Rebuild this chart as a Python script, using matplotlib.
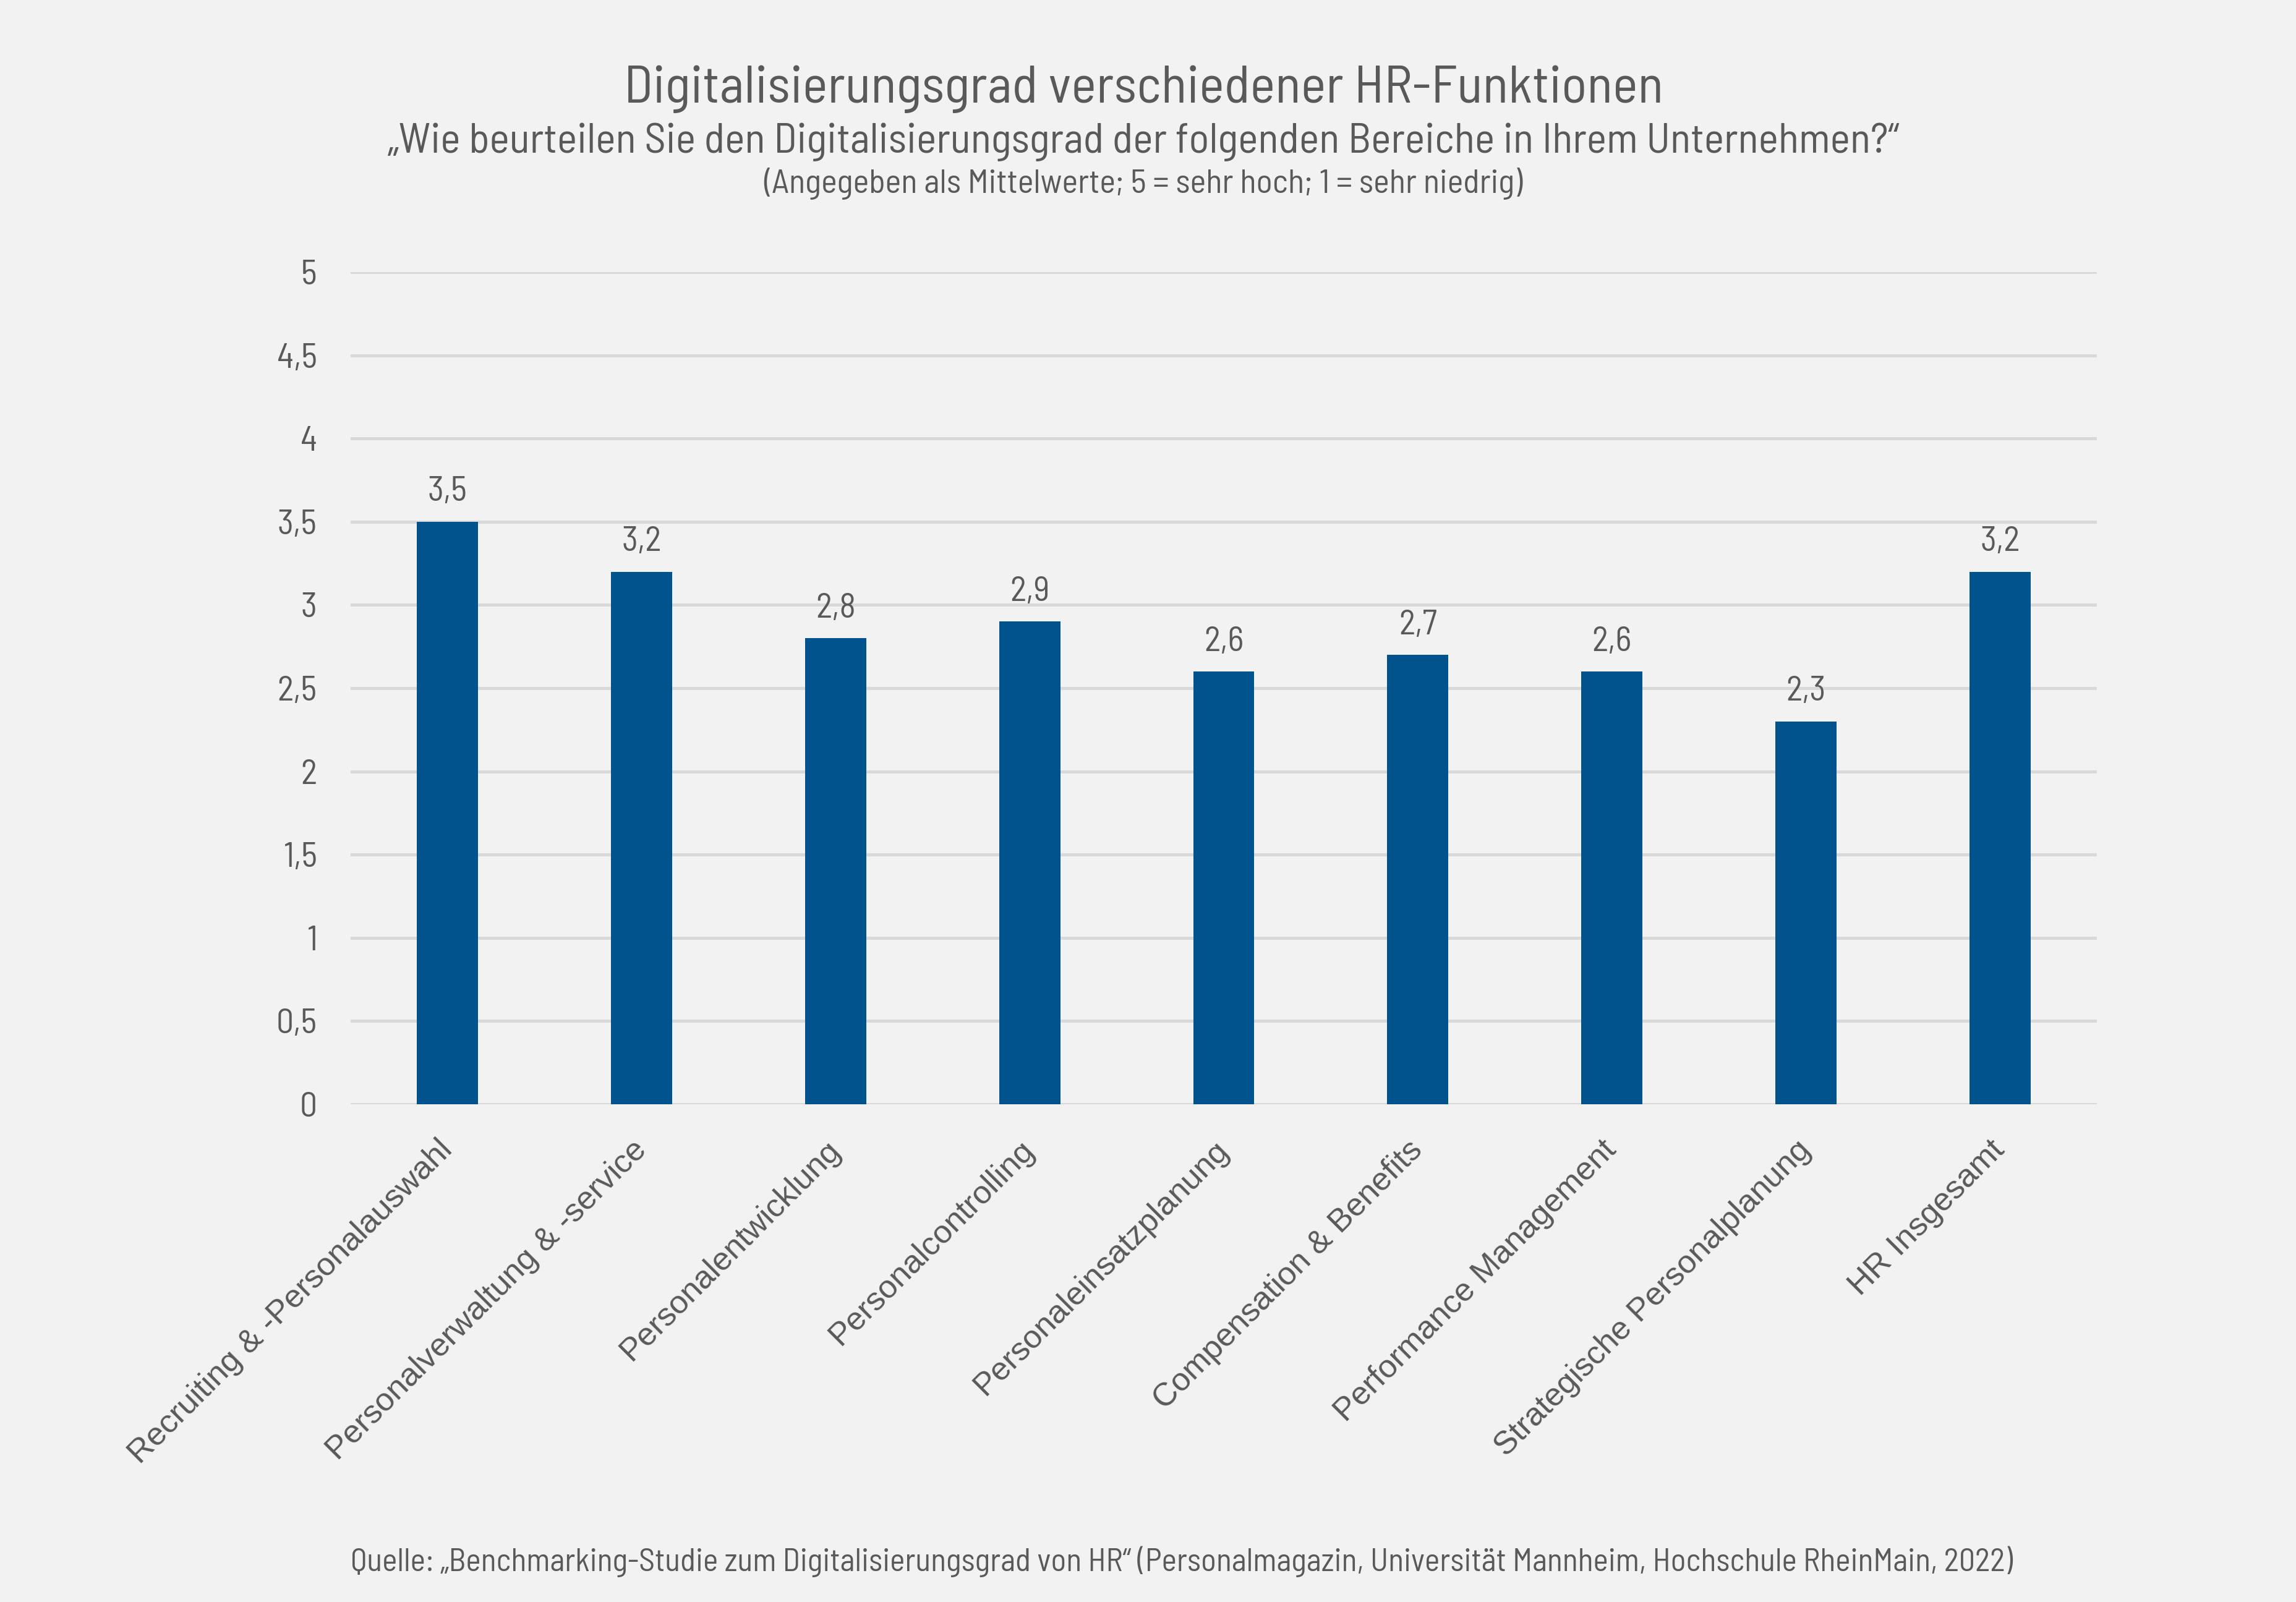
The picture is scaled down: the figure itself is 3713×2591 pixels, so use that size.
import matplotlib
matplotlib.use('Agg')
import matplotlib.pyplot as plt
from matplotlib import font_manager

# Kategorien und Mittelwerte
categories = ['Recruiting & -Personalauswahl', 'Personalverwaltung & -service',
              'Personalentwicklung', 'Personalcontrolling', 'Personaleinsatzplanung',
              'Compensation & Benefits', 'Performance Management',
              'Strategische Personalplanung', 'HR Insgesamt']
values = [3.5, 3.2, 2.8, 2.9, 2.6, 2.7, 2.6, 2.3, 3.2]
yticks = [0, 0.5, 1, 1.5, 2, 2.5, 3, 3.5, 4, 4.5, 5]
ytick_labels = ['0', '0,5', '1', '1,5', '2', '2,5', '3', '3,5', '4', '4,5', '5']

title = 'Digitalisierungsgrad verschiedener HR-Funktionen'
subtitle = '\u201eWie beurteilen Sie den Digitalisierungsgrad der folgenden Bereiche in Ihrem Unternehmen?\u201c'
note = '(Angegeben als Mittelwerte; 5 = sehr hoch; 1 = sehr niedrig)'
source = ('Quelle: \u201eBenchmarking-Studie zum Digitalisierungsgrad von HR\u201c '
          '(Personalmagazin, Universit\u00e4t Mannheim, Hochschule RheinMain, 2022)')

names = set(f.name for f in font_manager.fontManager.ttflist)
def pick(prefs):
    for p in prefs:
        if p in names:
            return [p, 'DejaVu Sans']
    return ['DejaVu Sans']

# schmale Schrift fuer Titel/Zahlen, normale fuer die Kategorien
cond = pick(['Barlow Semi Condensed', 'Barlow Condensed', 'Roboto Condensed', 'Archivo Narrow',
             'PT Sans Narrow', 'Liberation Sans Narrow'])
plain = pick(['Liberation Sans', 'Arimo', 'Roboto'])
plt.rcParams['font.family'] = cond

bg = '#F2F2F2'
txt = '#595959'
bar_col = '#00538C'

fig = plt.figure(figsize=(3713/300, 2591/300), dpi=300, facecolor=bg)
ax = fig.add_axes([0.1527, 0.3107, 0.7606, 0.5195])
ax.set_facecolor(bg)

x = range(len(categories))
bars = ax.bar(x, values, width=0.315, color=bar_col, zorder=3)
for b, v in zip(bars, values):
    ax.annotate(('%.1f' % v).replace('.', ','), (b.get_x() + b.get_width()/2, v),
                xytext=(0, 8), textcoords='offset points', ha='center', va='baseline',
                fontsize=13.4, color=txt)

ax.set_xlim(-0.5, len(categories) - 0.5)
ax.set_ylim(0, 5)
ax.set_yticks(yticks)
ax.set_yticklabels(ytick_labels)
ax.yaxis.grid(True, color='#D9D9D9', linewidth=1.2, zorder=0)
ax.set_xticks(list(x))
ax.set_xticklabels(categories, rotation=45, ha='right', va='center', rotation_mode='anchor',
                   family=plain, fontsize=12.6)
for s in ax.spines.values():
    s.set_visible(False)
ax.tick_params(axis='both', length=0, colors=txt)
ax.tick_params(axis='y', pad=13, labelsize=13.4)
ax.tick_params(axis='x', pad=16)

fig.text(0.498, 0.936, title, ha='center', va='baseline', fontsize=20.7, color=txt)
fig.text(0.498, 0.9047, subtitle, ha='center', va='baseline', fontsize=16.5, color=txt)
fig.text(0.498, 0.8796, note, ha='center', va='baseline', fontsize=13.1, color=txt)
fig.text(0.1527, 0.0193, source, ha='left', va='baseline', fontsize=12.4, color=txt)

fig.savefig('out.png', dpi=300, facecolor=bg)
